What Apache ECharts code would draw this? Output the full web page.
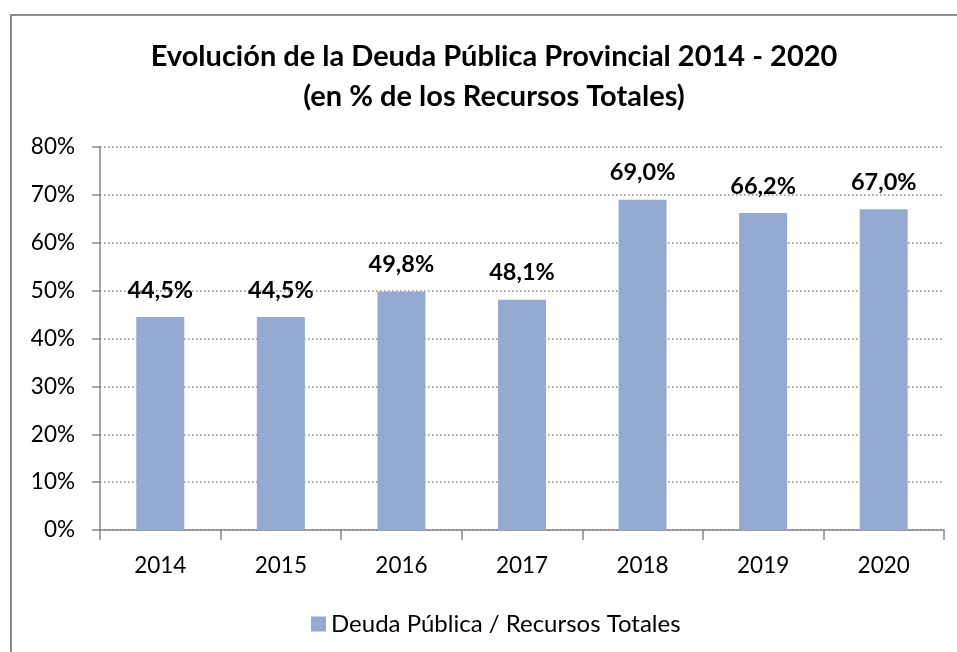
<!DOCTYPE html>
<html>
<head>
<meta charset="utf-8">
<script src="https://cdn.jsdelivr.net/npm/echarts@6/dist/echarts.min.js"></script>
<style>
html,body{margin:0;padding:0;background:#fff;}
#chart{width:957px;height:652px;}
</style>
</head>
<body>
<div id="chart"></div>
<script>
const categories = ['2014', '2015', '2016', '2017', '2018', '2019', '2020'];
const deudaValues = [44.5, 44.5, 49.8, 48.1, 69.0, 66.2, 67.0];
const seriesName = 'Deuda Pública / Recursos Totales';
const titleLine1 = 'Evolución de la Deuda Pública Provincial 2014 - 2020';
const titleLine2 = '(en % de los Recursos Totales)';

const FONT = 'Lato';
const chart = echarts.init(document.getElementById('chart'), null, {renderer: 'canvas'});
chart.setOption({
  backgroundColor: '#fff',
  animation: false,
  graphic: [
    {type: 'rect', shape: {x: 11, y: 15, width: 1000, height: 700}, style: {fill: 'none', stroke: '#8c8c8c', lineWidth: 2}, silent: true, z: -1},
    {type: 'text', x: 494, y: 57, style: {text: titleLine1, font: 'bold 29px ' + FONT, fill: '#000', textAlign: 'center', textVerticalAlign: 'middle'}},
    {type: 'text', x: 494, y: 97, style: {text: titleLine2, font: 'bold 29px ' + FONT, fill: '#000', textAlign: 'center', textVerticalAlign: 'middle'}}
  ],
  legend: {
    data: [seriesName],
    left: 306,
    top: 607,
    icon: 'rect',
    itemWidth: 15,
    itemHeight: 15,
    itemGap: 9,
    textStyle: {fontFamily: FONT, fontSize: 24, color: '#000'}
  },
  grid: {left: 100, right: 13, top: 147, bottom: 122, containLabel: false},
  xAxis: {
    type: 'category',
    data: categories,
    axisLine: {lineStyle: {color: '#888', width: 1.5}},
    axisTick: {show: true, length: 10, lineStyle: {color: '#888', width: 1.5}},
    axisLabel: {fontFamily: FONT, fontSize: 22.5, color: '#000', margin: 24}
  },
  yAxis: {
    type: 'value',
    min: 0,
    max: 80,
    interval: 10,
    axisLine: {show: true, lineStyle: {color: '#888', width: 1.5}},
    axisTick: {show: true, length: 8, lineStyle: {color: '#888', width: 1.5}},
    axisLabel: {fontFamily: FONT, fontSize: 22.5, color: '#000', margin: 25, formatter: '{value}%'},
    splitLine: {show: true, lineStyle: {color: '#888', width: 1.5, type: [1.5, 2.5]}}
  },
  series: [{
    name: seriesName,
    type: 'bar',
    data: deudaValues,
    barWidth: 48,
    itemStyle: {color: '#95AAD1'},
    label: {
      show: true,
      position: 'top',
      distance: 15,
      fontFamily: FONT,
      fontWeight: 'bold',
      fontSize: 23.5,
      color: '#000',
      formatter: p => p.value.toFixed(1).replace('.', ',') + '%'
    }
  }]
});
</script>
</body>
</html>
